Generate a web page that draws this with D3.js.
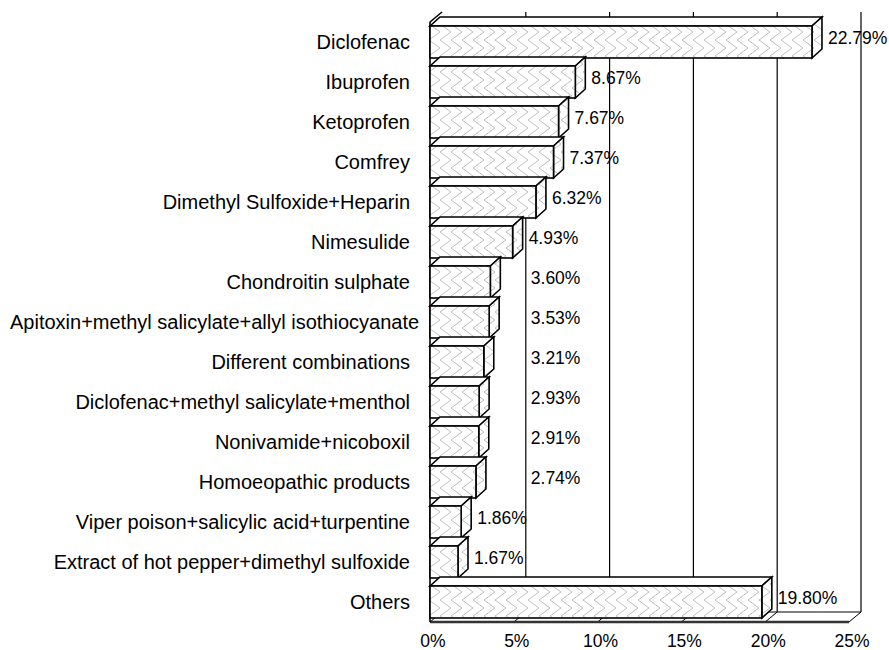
<!DOCTYPE html>
<html>
<head>
<meta charset="utf-8">
<script src="https://cdn.jsdelivr.net/npm/d3@7"></script>
<style>
  body { margin: 0; background: #fff; }
  text { font-family: "Liberation Sans", Arial, sans-serif; fill: #000; }
</style>
</head>
<body>
<div class="chart"></div>
<script>
const width = 889;
const height = 650;

const categories = [
   "Diclofenac", "Ibuprofen", "Ketoprofen", "Comfrey", "Dimethyl Sulfoxide+Heparin",
   "Nimesulide", "Chondroitin sulphate", "Apitoxin+methyl salicylate+allyl isothiocyanate",
   "Different combinations", "Diclofenac+methyl salicylate+menthol", "Nonivamide+nicoboxil",
   "Homoeopathic products", "Viper poison+salicylic acid+turpentine",
   "Extract of hot pepper+dimethyl sulfoxide", "Others"
];
const shares = [22.79, 8.67, 7.67, 7.37, 6.32, 4.93, 3.60, 3.53, 3.21, 2.93, 2.91, 2.74, 1.86, 1.67, 19.80];
const ticks = [0, 5, 10, 15, 20, 25];

// front plane and 3d depth
const plotLeft = 430, plotRight = 849, plotTop = 22, plotBottom = 622;
const wallDx = 12, wallDy = -10;
const barDx = 10, barDy = -9;

const x = d3.scaleLinear().domain([0, 25]).range([plotLeft, plotRight]);
const y = d3.scaleBand().domain(categories).range([plotTop, plotBottom]).paddingInner(0.2).paddingOuter(0.1);

const svg = d3.select(".chart").append("svg").attr("width", width).attr("height", height);

const defs = svg.append("defs");
const pat = defs.append("pattern")
   .attr("id", "zig")
   .attr("patternUnits", "userSpaceOnUse")
   .attr("width", 22).attr("height", 16);
pat.append("rect").attr("width", 22).attr("height", 16).attr("fill", "#fff");
pat.append("path")
   .attr("d", "M11,0 L0,8 L11,16 M22,0 L11,8 L22,16")
   .attr("fill", "none").attr("stroke", "#bdbdbd").attr("stroke-width", 1);

const pts = (arr) => arr.map((p) => p.join(",")).join(" ");

// floor
svg.append("polygon")
   .attr("points", pts([[plotLeft, plotBottom], [plotRight, plotBottom], [plotRight + wallDx, plotBottom + wallDy], [plotLeft + wallDx, plotBottom + wallDy]]))
   .attr("fill", "#fff").attr("stroke", "#000").attr("stroke-width", 1);
svg.append("g").selectAll("line").data(ticks.slice(1, -1)).enter().append("line")
   .attr("x1", (d) => x(d)).attr("y1", plotBottom)
   .attr("x2", (d) => x(d) + wallDx).attr("y2", plotBottom + wallDy)
   .attr("stroke", "#000");
svg.append("line")
   .attr("x1", plotLeft).attr("y1", plotBottom).attr("x2", plotRight).attr("y2", plotBottom)
   .attr("stroke", "#333").attr("stroke-width", 2.5);

// back wall gridlines
svg.append("g").selectAll("line").data(ticks.slice(1)).enter().append("line")
   .attr("x1", (d) => x(d) + wallDx).attr("y1", plotTop + wallDy)
   .attr("x2", (d) => x(d) + wallDx).attr("y2", plotBottom + wallDy)
   .attr("stroke", "#000").attr("stroke-width", 1.2);

// left wall edge
svg.append("polyline")
   .attr("points", pts([[plotLeft, plotBottom], [plotLeft, plotTop], [plotLeft + wallDx, plotTop + wallDy]]))
   .attr("fill", "none").attr("stroke", "#000").attr("stroke-width", 1.6);

// bars, top to bottom so each top face sits over the bar above it
const bars = svg.append("g").selectAll("g").data(categories).enter().append("g");
bars.each(function (c, i) {
   const g = d3.select(this);
   const x0 = x(0), x1 = x(shares[i]);
   const y0 = y(c), y1 = y(c) + y.bandwidth();
   g.append("polygon")
      .attr("points", pts([[x0, y0], [x0 + barDx, y0 + barDy], [x1 + barDx, y0 + barDy], [x1, y0]]))
      .attr("fill", "#fff");
   g.append("polygon")
      .attr("points", pts([[x1, y0], [x1 + barDx, y0 + barDy], [x1 + barDx, y1 + barDy], [x1, y1]]))
      .attr("fill", "url(#zig)");
   g.append("rect")
      .attr("x", x0).attr("y", y0).attr("width", x1 - x0).attr("height", y1 - y0)
      .attr("fill", "url(#zig)");
   g.selectAll("polygon, rect")
      .attr("stroke", "#000").attr("stroke-width", 1.6).attr("stroke-linejoin", "miter");
});

// value labels; the mid-small ones sit just past the 5% gridline like the original
svg.append("g").selectAll("text").data(shares).enter().append("text")
   .attr("x", (d) => {
      const end = x(d) + barDx + 6;
      return d > 2 && d < 4.5 ? Math.max(end, x(5) + wallDx + 5) : end;
   })
   .attr("y", (d, i) => y(categories[i]) + y.bandwidth() / 2 + barDy / 2)
   .attr("dy", "0.36em")
   .attr("font-size", 17.5)
   .text((d) => d.toFixed(2) + "%");

// category labels
const catLabels = svg.append("g").selectAll("text").data(categories).enter().append("text")
   .attr("x", 410)
   .attr("y", (d) => y(d) + y.bandwidth() / 2)
   .attr("dy", "0.36em")
   .attr("text-anchor", "end")
   .attr("font-size", 20)
   .text((d) => d);
catLabels.each(function () {
   const w = this.getComputedTextLength();
   if (410 - w < 10) d3.select(this).attr("text-anchor", "start").attr("x", 10);
});

// bottom tick labels
svg.append("g").selectAll("text").data(ticks).enter().append("text")
   .attr("x", (d) => x(d) + 3)
   .attr("y", 647)
   .attr("text-anchor", "middle")
   .attr("font-size", 17.5)
   .text((d) => d + "%");
</script>
</body>
</html>
